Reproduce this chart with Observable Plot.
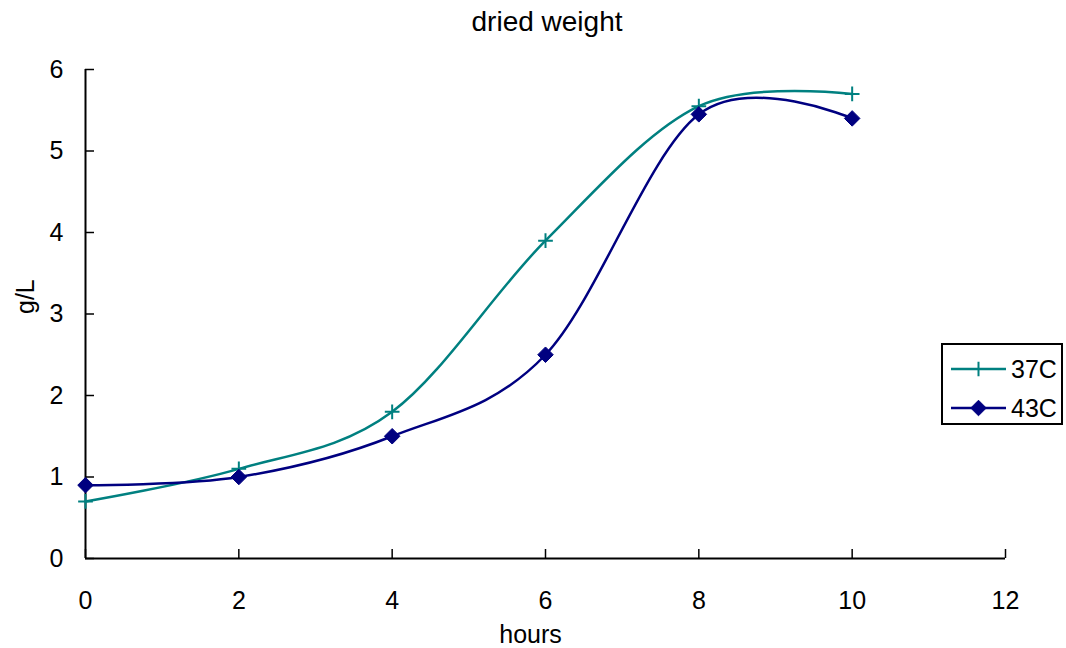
<!DOCTYPE html>
<html>
<head>
<meta charset="utf-8">
<script src="https://cdn.jsdelivr.net/npm/d3@7"></script>
<script src="https://cdn.jsdelivr.net/npm/@observablehq/plot@0.6"></script>
<style>
  html, body { margin: 0; padding: 0; background: #fff; }
  #fig { position: relative; width: 1066px; height: 648px; font-family: "Liberation Sans", Arial, sans-serif; }
  #title { height: 44px; line-height: 44px; font-size: 28px; position: relative; }
  #title span { position: absolute; left: 547px; transform: translateX(-50%); white-space: nowrap; }
  #legend { position: absolute; left: 941px; top: 343px; width: 118px; height: 78px; border: 2px solid #000; background: #fff; }
  #legend .row { position: absolute; left: 0; height: 30px; display: flex; align-items: center; font-size: 25px; }
  #legend svg { display: block; }
</style>
</head>
<body>
<div id="fig">
  <div id="title"><span>dried weight</span></div>
</div>
<script>
// Sampling times (hours)
const hours = [0, 2, 4, 6, 8, 10];
// Dried weight (g/L) at each temperature
const weight37 = [0.7, 1.1, 1.8, 3.9, 5.55, 5.7];
const weight43 = [0.9, 1.0, 1.5, 2.5, 5.45, 5.4];
const seriesNames = ["37C", "43C"];
const seriesColors = ["#008080", "#000080"];
const xTicks = [0, 2, 4, 6, 8, 10, 12];
const yTicks = [0, 1, 2, 3, 4, 5, 6];

const font = "'Liberation Sans', Arial, sans-serif";

const rows = [
  ...hours.map((h, i) => ({hours: h, value: weight37[i], series: seriesNames[0]})),
  ...hours.map((h, i) => ({hours: h, value: weight43[i], series: seriesNames[1]}))
];
const s37 = rows.filter(d => d.series === seriesNames[0]);
const s43 = rows.filter(d => d.series === seriesNames[1]);

const chart = Plot.plot({
  width: 1066,
  height: 604,
  marginLeft: 85,
  marginRight: 61,
  marginTop: 25,
  marginBottom: 90,
  style: {fontFamily: font, fontSize: "25px", color: "#000", background: "#fff"},
  x: {domain: [0, 12]},
  y: {domain: [0, 6]},
  marks: [
    Plot.axisY({ticks: yTicks, tickFormat: "d", tickSize: -9, tickPadding: 31, strokeWidth: 1.5, fontSize: 25, label: null}),
    Plot.axisX({ticks: xTicks, tickFormat: "d", tickSize: -9, tickPadding: 42, strokeWidth: 1.5, fontSize: 25, label: null}),
    Plot.ruleX([0], {stroke: "#000", strokeWidth: 2}),
    Plot.ruleY([0], {stroke: "#000", strokeWidth: 2}),
    Plot.text(["hours"], {text: d => d, frameAnchor: "bottom", lineAnchor: "bottom", dx: -15, dy: 84, fontSize: 25}),
    Plot.text(["g/L"], {text: d => d, frameAnchor: "left", rotate: -90, dx: -60, dy: 0, fontSize: 25}),
    Plot.line(s37, {x: "hours", y: "value", stroke: seriesColors[0], strokeWidth: 2.5, curve: "cardinal"}),
    Plot.line(s43, {x: "hours", y: "value", stroke: seriesColors[1], strokeWidth: 2.5, curve: "cardinal"}),
    Plot.dot(s37, {x: "hours", y: "value", symbol: "plus", r: 4.8, stroke: seriesColors[0], strokeWidth: 2}),
    Plot.dot(s43, {x: "hours", y: "value", symbol: "diamond2", r: 7, fill: seriesColors[1], stroke: seriesColors[1], strokeWidth: 1})
  ]
});
document.getElementById("fig").appendChild(chart);

// Legend box with line + marker swatches
const legend = document.createElement("div");
legend.id = "legend";
const symbols = [d3.symbolPlus, d3.symbolDiamond2];
const sizes = [Math.PI * 4.8 * 4.8, Math.PI * 7 * 7];
seriesNames.forEach((name, i) => {
  const row = document.createElement("div");
  row.className = "row";
  row.style.top = (i === 0 ? 9 : 48) + "px";
  const path = d3.symbol(symbols[i], sizes[i])();
  const markStyle = i === 0
    ? `fill="none" stroke="${seriesColors[i]}" stroke-width="2"`
    : `fill="${seriesColors[i]}" stroke="${seriesColors[i]}" stroke-width="1"`;
  row.innerHTML = `<svg width="66" height="30"><line x1="8" x2="63" y1="15" y2="15" stroke="${seriesColors[i]}" stroke-width="2.5"/>` +
    `<path transform="translate(35.5,15)" d="${path}" ${markStyle}/></svg><span style="margin-left:2px">${name}</span>`;
  legend.appendChild(row);
});
document.getElementById("fig").appendChild(legend);
</script>
</body>
</html>
